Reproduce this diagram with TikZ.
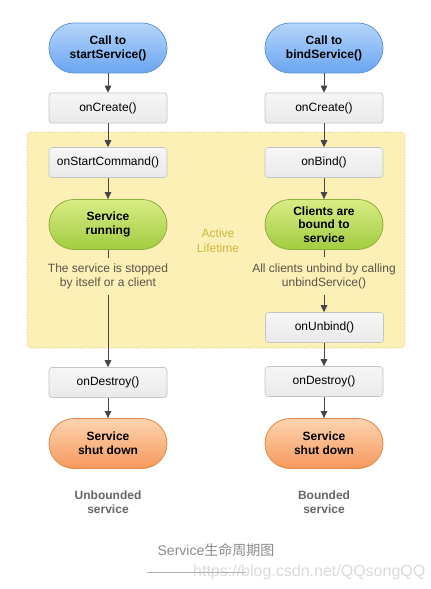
\documentclass[tikz,border=0pt]{standalone}
\usepackage{fontspec}
\setmainfont{Liberation Sans}
\newfontfamily\cjkfont{Noto Sans CJK SC}
\usetikzlibrary{arrows.meta}
\definecolor{bluetop}{HTML}{B4D4FA}
\definecolor{bluebot}{HTML}{6AA6F0}
\definecolor{blueedge}{HTML}{6494D8}
\definecolor{greentop}{HTML}{D8EC84}
\definecolor{greenbot}{HTML}{A2CC40}
\definecolor{greenedge}{HTML}{8EAE3E}
\definecolor{orangetop}{HTML}{FDD4B0}
\definecolor{orangebot}{HTML}{F6985C}
\definecolor{orangeedge}{HTML}{E28648}
\definecolor{boxtop}{HTML}{F6F6F6}
\definecolor{boxbot}{HTML}{EAEAEA}
\definecolor{boxedge}{HTML}{C4C4C4}
\definecolor{zonefill}{HTML}{FCF0B6}
\definecolor{zoneedge}{HTML}{D2C07A}
\definecolor{zonetext}{HTML}{CDB83C}
\definecolor{arrowc}{HTML}{454545}
\definecolor{notec}{HTML}{5A5448}
\tikzset{
  pill/.style={rectangle, rounded corners=25pt, minimum width=118pt, minimum height=50pt,
    inner sep=0pt, align=center, font=\fontsize{12}{14}\selectfont\bfseries, line width=0.8pt},
  bluepill/.style={pill, draw=blueedge, top color=bluetop, bottom color=bluebot},
  greenpill/.style={pill, draw=greenedge, top color=greentop, bottom color=greenbot},
  orangepill/.style={pill, draw=orangeedge, top color=orangetop, bottom color=orangebot},
  callbox/.style={rectangle, rounded corners=3pt, minimum width=118pt, minimum height=30pt,
    inner sep=0pt, draw=boxedge, top color=boxtop, bottom color=boxbot, line width=0.6pt,
    font=\fontsize{12}{14}\selectfont},
  notetext/.style={align=center, inner xsep=0pt, inner ysep=6pt, text=notec,
    font=\fontsize{12}{14}\selectfont},
  kindtext/.style={align=center, text=black!60, font=\fontsize{12}{14}\selectfont\bfseries},
  flow/.style={draw=arrowc, line width=1pt, -{Triangle[length=7pt,width=6.5pt]}},
  tick/.style={draw=arrowc, line width=1pt}
}
\begin{document}
\begin{tikzpicture}[x=1pt,y=-1pt]
\useasboundingbox (0,0) rectangle (431,589);
\fill[white] (0,0) rectangle (431,589);
% active lifetime zone
\draw[zoneedge, fill=zonefill, dotted, line width=0.8pt, rounded corners=4pt] (27,132) rectangle (405,348);
\node[text=zonetext, align=center, font=\fontsize{12}{15}\selectfont] (active) at (218,241) {Active\\Lifetime};

% left column
\node[bluepill] (startcall) at (108,48) {Call to\\startService()};
\node[callbox] (createL) at (108,108) {onCreate()};
\node[callbox] (startcmd) at (108,162.5) {onStartCommand()};
\node[greenpill] (running) at (108,224.5) {Service\\running};
\node[notetext] (stopnote) at (108,276.5) {The service is stopped\\by itself or a client};
\node[callbox] (destroyL) at (108,382.5) {onDestroy()};
\node[orangepill] (downL) at (108,443.5) {Service\\shut down};
\node[kindtext] (unbounded) at (108,502) {Unbounded\\service};

% right column
\node[bluepill] (bindcall) at (324,48) {Call to\\bindService()};
\node[callbox] (createR) at (324,108) {onCreate()};
\node[callbox] (onbind) at (324,162.5) {onBind()};
\node[greenpill, font=\fontsize{12}{13.5}\selectfont\bfseries] (bound) at (324,224.5) {Clients are\\bound to\\service};
\node[notetext] (unbindnote) at (324,276) {All clients unbind by calling\\unbindService()};
\node[callbox] (onunbind) at (324.5,327.5) {onUnbind()};
\node[callbox] (destroyR) at (324,381.5) {onDestroy()};
\node[orangepill] (downR) at (324,443.5) {Service\\shut down};
\node[kindtext] (bounded) at (324,502) {Bounded\\service};

% connectors left
\draw[flow] (startcall) -- (createL);
\draw[flow] (createL) -- (startcmd);
\draw[flow] (startcmd) -- (running);
\draw[tick] (running.south) -- (stopnote.north);
\draw[flow] (stopnote.south) -- (destroyL.north);
\draw[flow] (destroyL) -- (downL);

% connectors right
\draw[flow] (bindcall) -- (createR);
\draw[flow] (createR) -- (onbind);
\draw[flow] (onbind) -- (bound);
\draw[tick] (bound.south) -- (unbindnote.north);
\draw[flow] (unbindnote.south) -- (onunbind.north -| unbindnote.south);
\draw[flow] (onunbind.south -| destroyR.north) -- (destroyR.north);
\draw[flow] (destroyR) -- (downR);

% caption and watermark
\node[text=black!45, font=\fontsize{14}{16}\selectfont, inner sep=0pt] (caption) at (216,550) {Service{\cjkfont 生命周期图}};
\node[text=black!14, font=\fontsize{16}{18}\selectfont, inner sep=0pt, anchor=west] (mark) at (193,572) {https://blog.csdn.net/QQsongQQ};
\coordinate (ruleA) at (147,572.5);
\coordinate (ruleB) at (246,572.5);
\draw[black!30, line width=0.7pt] (ruleA) -- (ruleB);
\end{tikzpicture}
\end{document}
